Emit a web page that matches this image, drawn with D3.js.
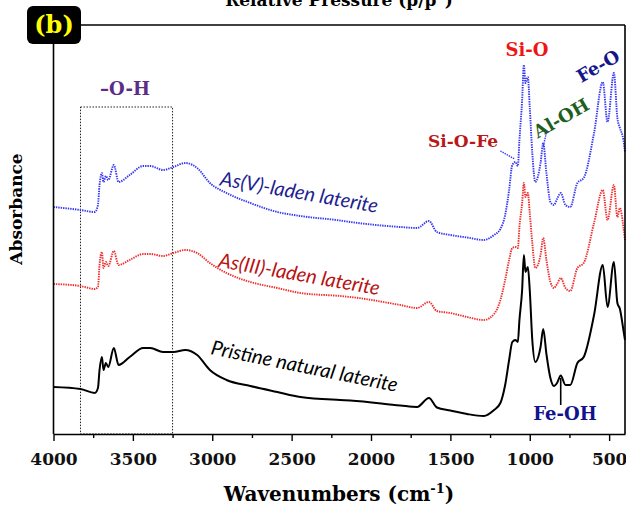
<!DOCTYPE html>
<html>
<head>
<meta charset="utf-8">
<script src="https://cdn.jsdelivr.net/npm/d3@7/dist/d3.min.js"></script>
<style>
  html, body { margin: 0; padding: 0; background: #fff; }
  svg { display: block; }
</style>
</head>
<body>
<svg id="chart" width="626" height="507"></svg>
<script>
// FTIR spectra of natural laterite before and after arsenic uptake
const wavenumbers = [4000, 3830, 3740, 3720, 3710, 3695, 3685, 3670, 3655, 3620,
  3590, 3520, 3435, 3390, 3310, 3245, 3170, 3095, 3015, 2910,
  2760, 2590, 2445, 2195, 2130, 1815, 1710, 1635, 1585, 1500,
  1395, 1290, 1225, 1185, 1155, 1130, 1110, 1090, 1075, 1065,
  1048, 1037, 1027, 1012, 1000, 984, 965, 932, 915, 895,
  870, 848, 828, 805, 775, 745, 700, 660, 595, 540,
  510, 470, 448, 432, 410, 400];

// absorbance (arbitrary units, stacked)
const pristine = [0.47, 0.45, 0.41, 0.46, 0.64, 0.77, 0.64, 0.71, 0.67, 0.86,
  0.69, 0.77, 0.86, 0.86, 0.82, 0.82, 0.84, 0.79, 0.64, 0.54,
  0.48, 0.42, 0.37, 0.34, 0.335, 0.285, 0.27, 0.36, 0.265, 0.235,
  0.20, 0.18, 0.24, 0.31, 0.49, 0.74, 0.92, 0.94, 0.92, 1.14,
  1.44, 1.79, 1.62, 1.67, 1.44, 0.94, 0.72, 0.87, 1.05, 0.80,
  0.56, 0.48, 0.51, 0.585, 0.49, 0.49, 0.71, 0.77, 1.19, 1.69,
  1.27, 1.72, 1.31, 1.25, 1.04, 0.94];

const asV = [2.27, 2.24, 2.22, 2.29, 2.49, 2.61, 2.52, 2.58, 2.54, 2.69,
  2.52, 2.59, 2.68, 2.68, 2.64, 2.67, 2.71, 2.66, 2.51, 2.41,
  2.31, 2.22, 2.18, 2.135, 2.12, 2.07, 2.06, 2.13, 2.02, 1.99,
  1.965, 1.94, 1.99, 2.05, 2.19, 2.44, 2.69, 2.72, 2.68, 2.94,
  3.34, 3.69, 3.51, 3.57, 3.27, 2.81, 2.52, 2.71, 2.91, 2.61,
  2.32, 2.29, 2.35, 2.41, 2.29, 2.27, 2.51, 2.56, 3.01, 3.52,
  3.12, 3.61, 3.16, 3.06, 2.94, 2.82];

const asIII = [1.50, 1.48, 1.45, 1.47, 1.69, 1.82, 1.66, 1.72, 1.68, 1.83,
  1.69, 1.74, 1.80, 1.80, 1.78, 1.81, 1.84, 1.81, 1.71, 1.61,
  1.52, 1.46, 1.41, 1.38, 1.37, 1.29, 1.26, 1.32, 1.23, 1.21,
  1.17, 1.14, 1.20, 1.34, 1.54, 1.74, 1.86, 1.87, 1.86, 2.07,
  2.31, 2.51, 2.37, 2.41, 2.21, 1.91, 1.66, 1.79, 1.96, 1.74,
  1.52, 1.46, 1.50, 1.56, 1.46, 1.43, 1.66, 1.71, 2.11, 2.44,
  2.14, 2.49, 2.17, 2.26, 2.07, 1.94];

const majorTicks = [4000, 3500, 3000, 2500, 2000, 1500, 1000, 500];
const minorTicks = [3750, 3250, 2750, 2250, 1750, 1250, 750];

const seriesNames = ["As(V)-laden laterite", "As(III)-laden laterite", "Pristine natural laterite"];

const svg = d3.select("#chart");
const serif = "'DejaVu Serif', 'Liberation Serif', serif";
const script = "Lato, 'Open Sans', sans-serif";

const x = d3.scaleLinear().domain([4000, 400]).range([53.5, 625]);
const y = d3.scaleLinear().domain([0, 4.09]).range([434, 25]);

// caption of the panel above, running off the top edge
svg.append("text")
  .attr("x", 339).attr("y", 5.5)
  .attr("text-anchor", "middle")
  .attr("font-family", serif).attr("font-weight", "bold").attr("font-size", 17)
  .text("Relative Pressure (p/p°)");

// O-H stretching region box
svg.append("rect")
  .attr("x", x(3830)).attr("y", y(3.27))
  .attr("width", x(3250) - x(3830)).attr("height", y(0) - y(3.27))
  .attr("fill", "none").attr("stroke", "#222").attr("stroke-width", 1)
  .attr("stroke-dasharray", "1.5,1.5");

// spectra
const line = d3.line()
  .x((d, i) => x(wavenumbers[i]))
  .y(d => y(d))
  .curve(d3.curveMonotoneX);

svg.append("path").datum(asV)
  .attr("d", line).attr("fill", "none")
  .attr("stroke", "#3636f5").attr("stroke-width", 1.9)
  .attr("stroke-dasharray", "1.4,1");

svg.append("path").datum(asIII)
  .attr("d", line).attr("fill", "none")
  .attr("stroke", "#f02c2c").attr("stroke-width", 1.9)
  .attr("stroke-dasharray", "1.4,1");

svg.append("path").datum(pristine)
  .attr("d", line).attr("fill", "none")
  .attr("stroke", "#000").attr("stroke-width", 2);

// frame
const frame = svg.append("g").attr("stroke", "#000").attr("stroke-width", 1.6);
frame.append("line").attr("x1", x(4000)).attr("x2", x(400)).attr("y1", y(4.09)).attr("y2", y(4.09));
frame.append("line").attr("x1", x(400)).attr("x2", x(400)).attr("y1", y(4.09)).attr("y2", y(0));
frame.append("line").attr("x1", x(4000)).attr("x2", x(4000)).attr("y1", y(4.09)).attr("y2", y(0));

// bottom axis
const axisMajor = svg.append("g")
  .attr("transform", `translate(0,${y(0)})`)
  .call(d3.axisBottom(x).tickValues(majorTicks).tickSize(7).tickSizeOuter(0).tickPadding(12)
    .tickFormat(d3.format("d")));
axisMajor.select(".domain").attr("stroke-width", 1.6);
axisMajor.selectAll(".tick line").attr("stroke-width", 1.4);
axisMajor.selectAll(".tick text")
  .attr("font-family", serif).attr("font-weight", "bold").attr("font-size", 17).attr("fill", "#111");

const axisMinor = svg.append("g")
  .attr("transform", `translate(0,${y(0)})`)
  .call(d3.axisBottom(x).tickValues(minorTicks).tickSize(4).tickSizeOuter(0).tickFormat(""));
axisMinor.select(".domain").remove();
axisMinor.selectAll(".tick line").attr("stroke-width", 1.4);

// axis titles
const xt = svg.append("text")
  .attr("x", 339).attr("y", 501)
  .attr("text-anchor", "middle")
  .attr("font-family", serif).attr("font-weight", "bold").attr("font-size", 20);
xt.append("tspan").text("Wavenumbers (cm");
xt.append("tspan").attr("dy", -8).attr("font-size", 13).text("-1");
xt.append("tspan").attr("dy", 8).text(")");

svg.append("text")
  .attr("transform", "translate(22,209) rotate(-90)")
  .attr("text-anchor", "middle")
  .attr("font-family", serif).attr("font-weight", "bold").attr("font-size", 17)
  .text("Absorbance");

// panel badge
svg.append("rect")
  .attr("x", 27).attr("y", 6).attr("width", 54).attr("height", 38)
  .attr("rx", 6).attr("fill", "#000");
svg.append("text")
  .attr("x", 54).attr("y", 33)
  .attr("text-anchor", "middle")
  .attr("font-family", serif).attr("font-weight", "bold").attr("font-size", 24)
  .attr("fill", "#ffff00")
  .text("(b)");

// series labels along the curves
const seriesLabels = [
  { text: seriesNames[0], cx: 298, cy: 199, angle: 10, color: "#1e1e90" },
  { text: seriesNames[1], cx: 298, cy: 281, angle: 10, color: "#b81212" },
  { text: seriesNames[2], cx: 303, cy: 373, angle: 11.5, color: "#000" }
];
svg.selectAll("text.series")
  .data(seriesLabels).enter().append("text")
  .attr("class", "series")
  .attr("transform", d => `translate(${d.cx},${d.cy}) rotate(${d.angle})`)
  .attr("text-anchor", "middle")
  .attr("font-family", script).attr("font-style", "italic").attr("font-size", 20)
  .attr("fill", d => d.color)
  .text(d => d.text);

// band assignments
function band(label, cx, cy, color, angle, size) {
  svg.append("text")
    .attr("transform", `translate(${cx},${cy}) rotate(${angle || 0})`)
    .attr("text-anchor", "middle").attr("dy", "0.36em")
    .attr("font-family", serif).attr("font-weight", "bold").attr("font-size", size || 18)
    .attr("fill", color)
    .text(label);
}
band("\u2013O-H", 125, 89, "#5b2d86");
band("Si-O", 527, 50, "#f01515");
band("Si-O-Fe", 463, 141, "#b81818", 0, 17);
band("Al-OH", 561, 118, "#1e5e1e", -30);
band("Fe-O", 598, 66, "#15158c", -30);
band("Fe-OH", 565, 414, "#12128c");

// leader lines
svg.append("line")
  .attr("x1", x(1185)).attr("y1", y(2.83)).attr("x2", x(1095)).attr("y2", y(2.75))
  .attr("stroke", "#3636f5").attr("stroke-width", 1.4).attr("stroke-dasharray", "1.4,1");
svg.append("line")
  .attr("x1", x(895)).attr("y1", y(3.01)).attr("x2", x(915)).attr("y2", y(2.88))
  .attr("stroke", "#3636f5").attr("stroke-width", 1.4).attr("stroke-dasharray", "1.4,1");
svg.append("line")
  .attr("x1", x(805)).attr("y1", y(0.56)).attr("x2", x(805)).attr("y2", y(0.29))
  .attr("stroke", "#000").attr("stroke-width", 1.6);
</script>
</body>
</html>
